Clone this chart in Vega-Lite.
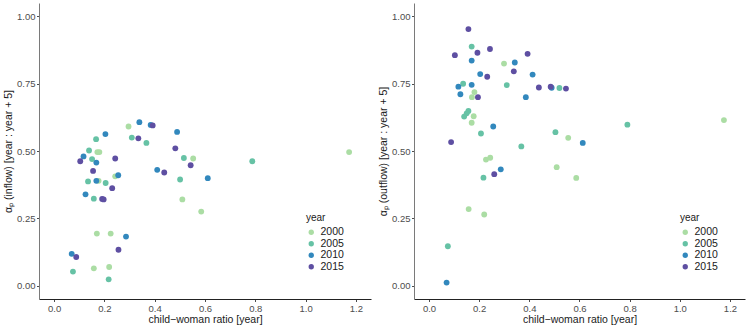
{
  "$schema": "https://vega.github.io/schema/vega-lite/v6.json",
  "background": "white",
  "padding": {"left": 3, "top": 3, "right": 3, "bottom": 2},
  "bounds": "flush",
  "spacing": 43,
  "config": {
    "view": {"stroke": null},
    "font": "Liberation Sans",
    "axis": {
      "grid": false,
      "labelColor": "#4d4d4d",
      "labelFontSize": 9.5,
      "labelFont": "Liberation Sans",
      "titleFont": "Liberation Sans",
      "titleFontWeight": "normal",
      "titleFontSize": 10.5,
      "titleColor": "#1a1a1a",
      "tickColor": "#4d4d4d",
      "tickSize": 2.5,
      "labelPadding": 1.5
    },
    "legend": {
      "titleFont": "Liberation Sans",
      "labelFont": "Liberation Sans",
      "titleFontWeight": "normal",
      "titleFontSize": 10,
      "labelFontSize": 10.5,
      "labelColor": "#1a1a1a",
      "titleColor": "#1a1a1a",
      "symbolSize": 28,
      "rowPadding": 0.5,
      "titlePadding": 4
    }
  },
  "datasets": {
    "inflow": [
      {"cwr": 0.296, "alpha": 0.591, "year": "2000"},
      {"cwr": 0.172, "alpha": 0.496, "year": "2000"},
      {"cwr": 0.180, "alpha": 0.496, "year": "2000"},
      {"cwr": 1.173, "alpha": 0.496, "year": "2000"},
      {"cwr": 0.553, "alpha": 0.472, "year": "2000"},
      {"cwr": 0.177, "alpha": 0.389, "year": "2000"},
      {"cwr": 0.243, "alpha": 0.406, "year": "2000"},
      {"cwr": 0.510, "alpha": 0.320, "year": "2000"},
      {"cwr": 0.585, "alpha": 0.275, "year": "2000"},
      {"cwr": 0.170, "alpha": 0.193, "year": "2000"},
      {"cwr": 0.225, "alpha": 0.193, "year": "2000"},
      {"cwr": 0.158, "alpha": 0.064, "year": "2000"},
      {"cwr": 0.219, "alpha": 0.069, "year": "2000"},
      {"cwr": 0.309, "alpha": 0.550, "year": "2005"},
      {"cwr": 0.167, "alpha": 0.544, "year": "2005"},
      {"cwr": 0.367, "alpha": 0.530, "year": "2005"},
      {"cwr": 0.139, "alpha": 0.502, "year": "2005"},
      {"cwr": 0.151, "alpha": 0.470, "year": "2005"},
      {"cwr": 0.516, "alpha": 0.474, "year": "2005"},
      {"cwr": 0.788, "alpha": 0.462, "year": "2005"},
      {"cwr": 0.501, "alpha": 0.394, "year": "2005"},
      {"cwr": 0.135, "alpha": 0.387, "year": "2005"},
      {"cwr": 0.205, "alpha": 0.381, "year": "2005"},
      {"cwr": 0.158, "alpha": 0.323, "year": "2005"},
      {"cwr": 0.075, "alpha": 0.052, "year": "2005"},
      {"cwr": 0.217, "alpha": 0.023, "year": "2005"},
      {"cwr": 0.339, "alpha": 0.607, "year": "2010"},
      {"cwr": 0.384, "alpha": 0.597, "year": "2010"},
      {"cwr": 0.204, "alpha": 0.563, "year": "2010"},
      {"cwr": 0.489, "alpha": 0.571, "year": "2010"},
      {"cwr": 0.117, "alpha": 0.480, "year": "2010"},
      {"cwr": 0.168, "alpha": 0.457, "year": "2010"},
      {"cwr": 0.410, "alpha": 0.430, "year": "2010"},
      {"cwr": 0.255, "alpha": 0.410, "year": "2010"},
      {"cwr": 0.168, "alpha": 0.389, "year": "2010"},
      {"cwr": 0.611, "alpha": 0.399, "year": "2010"},
      {"cwr": 0.125, "alpha": 0.339, "year": "2010"},
      {"cwr": 0.286, "alpha": 0.182, "year": "2010"},
      {"cwr": 0.070, "alpha": 0.118, "year": "2010"},
      {"cwr": 0.392, "alpha": 0.595, "year": "2015"},
      {"cwr": 0.335, "alpha": 0.547, "year": "2015"},
      {"cwr": 0.482, "alpha": 0.510, "year": "2015"},
      {"cwr": 0.243, "alpha": 0.472, "year": "2015"},
      {"cwr": 0.104, "alpha": 0.462, "year": "2015"},
      {"cwr": 0.543, "alpha": 0.447, "year": "2015"},
      {"cwr": 0.438, "alpha": 0.420, "year": "2015"},
      {"cwr": 0.155, "alpha": 0.426, "year": "2015"},
      {"cwr": 0.231, "alpha": 0.362, "year": "2015"},
      {"cwr": 0.191, "alpha": 0.322, "year": "2015"},
      {"cwr": 0.197, "alpha": 0.320, "year": "2015"},
      {"cwr": 0.256, "alpha": 0.133, "year": "2015"},
      {"cwr": 0.088, "alpha": 0.106, "year": "2015"}
    ],
    "outflow": [
      {"cwr": 0.299, "alpha": 0.825, "year": "2000"},
      {"cwr": 0.181, "alpha": 0.719, "year": "2000"},
      {"cwr": 0.171, "alpha": 0.700, "year": "2000"},
      {"cwr": 0.178, "alpha": 0.629, "year": "2000"},
      {"cwr": 0.170, "alpha": 0.605, "year": "2000"},
      {"cwr": 1.176, "alpha": 0.615, "year": "2000"},
      {"cwr": 0.555, "alpha": 0.549, "year": "2000"},
      {"cwr": 0.227, "alpha": 0.468, "year": "2000"},
      {"cwr": 0.244, "alpha": 0.475, "year": "2000"},
      {"cwr": 0.509, "alpha": 0.440, "year": "2000"},
      {"cwr": 0.587, "alpha": 0.400, "year": "2000"},
      {"cwr": 0.158, "alpha": 0.284, "year": "2000"},
      {"cwr": 0.220, "alpha": 0.264, "year": "2000"},
      {"cwr": 0.170, "alpha": 0.888, "year": "2005"},
      {"cwr": 0.136, "alpha": 0.750, "year": "2005"},
      {"cwr": 0.310, "alpha": 0.745, "year": "2005"},
      {"cwr": 0.520, "alpha": 0.734, "year": "2005"},
      {"cwr": 0.157, "alpha": 0.649, "year": "2005"},
      {"cwr": 0.150, "alpha": 0.640, "year": "2005"},
      {"cwr": 0.140, "alpha": 0.628, "year": "2005"},
      {"cwr": 0.207, "alpha": 0.565, "year": "2005"},
      {"cwr": 0.791, "alpha": 0.598, "year": "2005"},
      {"cwr": 0.504, "alpha": 0.570, "year": "2005"},
      {"cwr": 0.368, "alpha": 0.517, "year": "2005"},
      {"cwr": 0.217, "alpha": 0.401, "year": "2005"},
      {"cwr": 0.075, "alpha": 0.146, "year": "2005"},
      {"cwr": 0.170, "alpha": 0.836, "year": "2010"},
      {"cwr": 0.342, "alpha": 0.829, "year": "2010"},
      {"cwr": 0.204, "alpha": 0.786, "year": "2010"},
      {"cwr": 0.413, "alpha": 0.784, "year": "2010"},
      {"cwr": 0.117, "alpha": 0.739, "year": "2010"},
      {"cwr": 0.170, "alpha": 0.746, "year": "2010"},
      {"cwr": 0.489, "alpha": 0.735, "year": "2010"},
      {"cwr": 0.125, "alpha": 0.711, "year": "2010"},
      {"cwr": 0.386, "alpha": 0.700, "year": "2010"},
      {"cwr": 0.256, "alpha": 0.591, "year": "2010"},
      {"cwr": 0.613, "alpha": 0.530, "year": "2010"},
      {"cwr": 0.286, "alpha": 0.432, "year": "2010"},
      {"cwr": 0.070, "alpha": 0.011, "year": "2010"},
      {"cwr": 0.157, "alpha": 0.953, "year": "2015"},
      {"cwr": 0.243, "alpha": 0.879, "year": "2015"},
      {"cwr": 0.193, "alpha": 0.865, "year": "2015"},
      {"cwr": 0.103, "alpha": 0.856, "year": "2015"},
      {"cwr": 0.393, "alpha": 0.861, "year": "2015"},
      {"cwr": 0.338, "alpha": 0.796, "year": "2015"},
      {"cwr": 0.232, "alpha": 0.776, "year": "2015"},
      {"cwr": 0.438, "alpha": 0.736, "year": "2015"},
      {"cwr": 0.485, "alpha": 0.739, "year": "2015"},
      {"cwr": 0.546, "alpha": 0.732, "year": "2015"},
      {"cwr": 0.195, "alpha": 0.700, "year": "2015"},
      {"cwr": 0.088, "alpha": 0.533, "year": "2015"},
      {"cwr": 0.260, "alpha": 0.414, "year": "2015"}
    ]
  },
  "resolve": {"legend": {"color": "independent"}},
  "hconcat": [
    {
      "width": 332,
      "height": 296,
      "data": {"name": "inflow"},
      "mark": {"type": "circle", "size": 34, "opacity": 1},
      "encoding": {
        "x": {
          "field": "cwr", "type": "quantitative",
          "scale": {"domain": [-0.06, 1.26], "nice": false, "zero": false},
          "axis": {"title": "child−woman ratio [year]", "values": [0, 0.2, 0.4, 0.6, 0.8, 1.0, 1.2], "format": ".1f", "domainColor": "#222222", "titlePadding": 2}
        },
        "y": {
          "field": "alpha", "type": "quantitative",
          "scale": {"domain": [-0.05, 1.05], "nice": false, "zero": false},
          "axis": {"title": "αₚ (inflow) [year : year + 5]", "values": [0, 0.25, 0.5, 0.75, 1.0], "format": ".2f", "domainColor": "#7a7a7a", "titlePadding": 3}
        },
        "color": {
          "field": "year", "type": "nominal",
          "scale": {"domain": ["2000", "2005", "2010", "2015"], "range": ["#ABDDA4", "#66C2A5", "#3288BD", "#5E4FA2"]},
          "legend": {"orient": "none", "legendX": 267, "legendY": 210, "title": "year"}
        }
      }
    },
    {
      "width": 331,
      "height": 296,
      "data": {"name": "outflow"},
      "mark": {"type": "circle", "size": 34, "opacity": 1},
      "encoding": {
        "x": {
          "field": "cwr", "type": "quantitative",
          "scale": {"domain": [-0.06, 1.26], "nice": false, "zero": false},
          "axis": {"title": "child−woman ratio [year]", "values": [0, 0.2, 0.4, 0.6, 0.8, 1.0, 1.2], "format": ".1f", "domainColor": "#222222", "titlePadding": 2}
        },
        "y": {
          "field": "alpha", "type": "quantitative",
          "scale": {"domain": [-0.05, 1.05], "nice": false, "zero": false},
          "axis": {"title": "αₚ (outflow) [year : year + 5]", "values": [0, 0.25, 0.5, 0.75, 1.0], "format": ".2f", "domainColor": "#7a7a7a", "titlePadding": 3}
        },
        "color": {
          "field": "year", "type": "nominal",
          "scale": {"domain": ["2000", "2005", "2010", "2015"], "range": ["#ABDDA4", "#66C2A5", "#3288BD", "#5E4FA2"]},
          "legend": {"orient": "none", "legendX": 266, "legendY": 210, "title": "year"}
        }
      }
    }
  ]
}
